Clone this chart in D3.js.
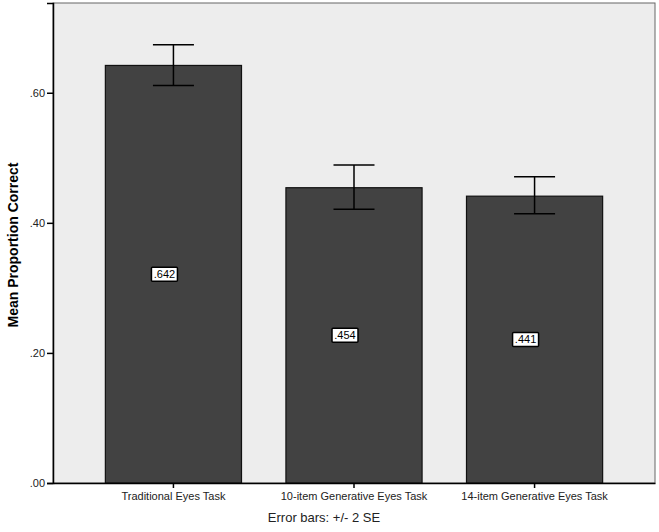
<!DOCTYPE html>
<html>
<head>
<meta charset="utf-8">
<script src="https://cdn.jsdelivr.net/npm/d3@7"></script>
<style>
  body { margin: 0; background: #fff; }
  text { font-family: "Liberation Sans", Arial, sans-serif; }
</style>
</head>
<body>
<svg id="chart" width="659" height="532"></svg>
<script>
// chart values
const tasks = ["Traditional Eyes Task", "10-item Generative Eyes Task", "14-item Generative Eyes Task"];
const means = [0.642, 0.454, 0.441];
const errLow = [0.611, 0.421, 0.414];
const errHigh = [0.674, 0.489, 0.471];
const yTicks = [0, 0.2, 0.4, 0.6];

const svg = d3.select("#chart");
const margin = {top: 3, right: 4, bottom: 49, left: 53};
const W = 659, H = 532;

const x = d3.scaleBand()
    .domain(tasks)
    .range([margin.left, W - margin.right])
    .paddingInner(0.246)
    .paddingOuter(0.29);

const y = d3.scaleLinear()
    .domain([0, 0.738])
    .range([H - margin.bottom, margin.top]);

const fmt = v => d3.format(".2f")(v).replace(/^0/, "");

// plot background + frame
svg.append("rect")
    .attr("x", margin.left).attr("y", margin.top)
    .attr("width", W - margin.left - margin.right)
    .attr("height", H - margin.top - margin.bottom)
    .attr("fill", "#ededed")
    .attr("stroke", "#666").attr("stroke-width", 1);

// bars
svg.selectAll(".bar")
    .data(tasks)
    .join("rect")
    .attr("class", "bar")
    .attr("x", d => x(d))
    .attr("y", (d, i) => y(means[i]))
    .attr("width", x.bandwidth())
    .attr("height", (d, i) => y(0) - y(means[i]))
    .attr("fill", "#424242")
    .attr("stroke", "#111").attr("stroke-width", 1.2);

// error bars
const capW = 41;
const eb = svg.selectAll(".err").data(tasks).join("g").attr("class", "err")
    .attr("stroke", "#000").attr("stroke-width", 1.5);
eb.append("line")
    .attr("x1", d => x(d) + x.bandwidth() / 2).attr("x2", d => x(d) + x.bandwidth() / 2)
    .attr("y1", (d, i) => y(errLow[i])).attr("y2", (d, i) => y(errHigh[i]));
eb.append("line")
    .attr("x1", d => x(d) + x.bandwidth() / 2 - capW / 2).attr("x2", d => x(d) + x.bandwidth() / 2 + capW / 2)
    .attr("y1", (d, i) => y(errLow[i])).attr("y2", (d, i) => y(errLow[i]));
eb.append("line")
    .attr("x1", d => x(d) + x.bandwidth() / 2 - capW / 2).attr("x2", d => x(d) + x.bandwidth() / 2 + capW / 2)
    .attr("y1", (d, i) => y(errHigh[i])).attr("y2", (d, i) => y(errHigh[i]));

// value labels
const lab = svg.selectAll(".vlab").data(tasks).join("g").attr("class", "vlab")
    .attr("transform", (d, i) => `translate(${x(d) + x.bandwidth() / 2 - 9},${y(means[i] / 2)})`);
lab.append("rect")
    .attr("x", -13).attr("y", -7).attr("width", 26).attr("height", 14)
    .attr("fill", "#fff").attr("stroke", "#000").attr("stroke-width", 1.5).attr("rx", 1);
lab.append("text")
    .attr("text-anchor", "middle").attr("dy", "0.35em")
    .attr("font-size", 11).attr("fill", "#000")
    .text((d, i) => d3.format(".3f")(means[i]).replace(/^0/, ""));

// y axis
const yAxis = svg.append("g")
    .attr("transform", `translate(${margin.left},0)`)
    .call(d3.axisLeft(y).tickValues(yTicks).tickFormat(fmt).tickSize(6).tickPadding(2));
yAxis.select(".domain").attr("stroke", "#000").attr("stroke-width", 1.5);
yAxis.selectAll(".tick line").attr("stroke-width", 1.5);
yAxis.selectAll("text").attr("font-size", 11).attr("fill", "#222");

// x axis
const xAxis = svg.append("g")
    .attr("transform", `translate(0,${H - margin.bottom})`)
    .call(d3.axisBottom(x).tickSize(5).tickPadding(4).tickSizeOuter(0));
xAxis.select(".domain").attr("stroke", "#000").attr("stroke-width", 1.5);
xAxis.selectAll(".tick line").attr("stroke-width", 1.5);
xAxis.selectAll("text").attr("font-size", 11).attr("fill", "#222");

// titles
svg.append("text")
    .attr("transform", `translate(18,${(margin.top + H - margin.bottom) / 2 + 2}) rotate(-90)`)
    .attr("text-anchor", "middle")
    .attr("font-size", 14).attr("font-weight", "bold")
    .text("Mean Proportion Correct");

svg.append("text")
    .attr("x", 324).attr("y", 522)
    .attr("text-anchor", "middle")
    .attr("font-size", 13).attr("fill", "#222")
    .text("Error bars: +/- 2 SE");
</script>
</body>
</html>
